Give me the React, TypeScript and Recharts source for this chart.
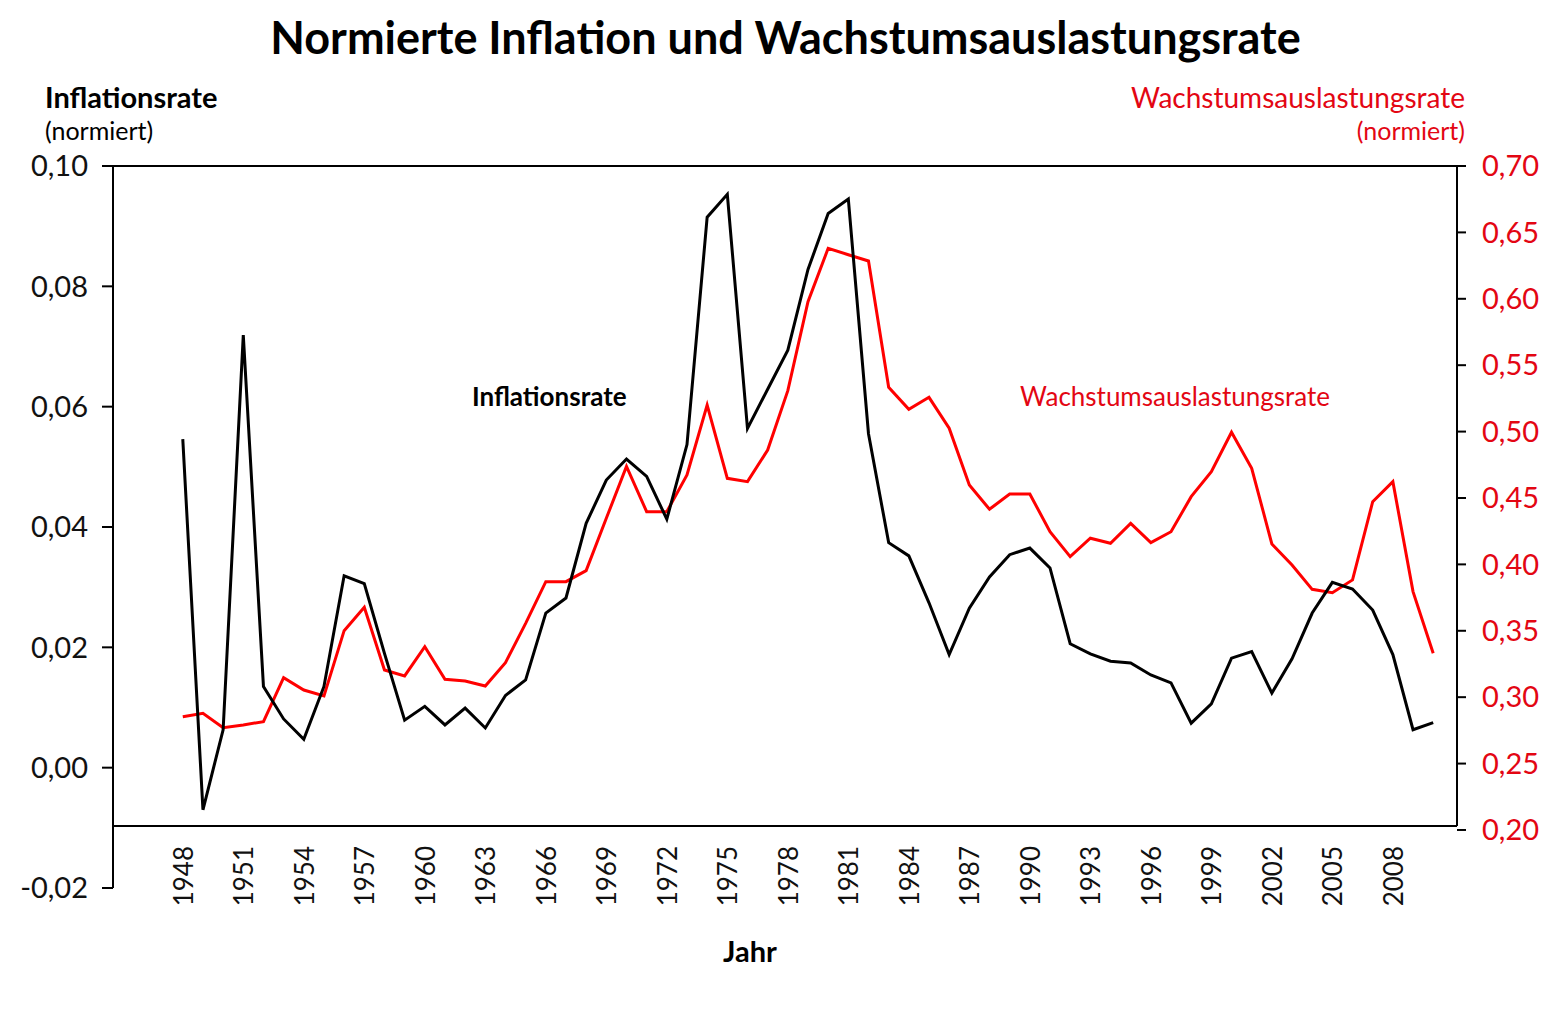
import React from "react";
import { LineChart, Line, XAxis, YAxis, ReferenceLine } from "recharts";

// Jahre 1948–2010
const years = [
  1948, 1949, 1950, 1951, 1952, 1953, 1954, 1955, 1956, 1957, 1958, 1959,
  1960, 1961, 1962, 1963, 1964, 1965, 1966, 1967, 1968, 1969, 1970, 1971,
  1972, 1973, 1974, 1975, 1976, 1977, 1978, 1979, 1980, 1981, 1982, 1983,
  1984, 1985, 1986, 1987, 1988, 1989, 1990, 1991, 1992, 1993, 1994, 1995,
  1996, 1997, 1998, 1999, 2000, 2001, 2002, 2003, 2004, 2005, 2006, 2007,
  2008, 2009, 2010,
];

// Inflationsrate (normiert), linke Achse
const inflation = [
  0.0546, -0.007, 0.0063, 0.0719, 0.0135, 0.0081, 0.0047, 0.0135, 0.0319,
  0.0306, 0.019, 0.0079, 0.0102, 0.0071, 0.0099, 0.0066, 0.012, 0.0146,
  0.0257, 0.0282, 0.0406, 0.0478, 0.0513, 0.0484, 0.0413, 0.0537, 0.0915,
  0.0953, 0.0564, 0.0629, 0.0694, 0.0828, 0.0921, 0.0945, 0.0555, 0.0374,
  0.0352, 0.0274, 0.0188, 0.0265, 0.0317, 0.0354, 0.0365, 0.0332, 0.0206,
  0.0189, 0.0177, 0.0174, 0.0154, 0.0141, 0.0074, 0.0106, 0.0182, 0.0193,
  0.0124, 0.0181, 0.0257, 0.0308, 0.0297, 0.0262, 0.0188, 0.0063, 0.0075,
];

// Wachstumsauslastungsrate (normiert), rechte Achse
const auslastung = [
  0.2853, 0.2879, 0.277, 0.2791, 0.2816, 0.3147, 0.3054, 0.3009, 0.3501,
  0.3677, 0.3205, 0.316, 0.338, 0.3135, 0.3122, 0.3084, 0.326, 0.3556,
  0.387, 0.387, 0.3953, 0.4347, 0.4738, 0.4397, 0.4397, 0.4673, 0.52,
  0.4648, 0.4623, 0.4861, 0.5308, 0.5978, 0.638, 0.6332, 0.6285, 0.5334,
  0.5168, 0.5258, 0.5025, 0.4598, 0.4415, 0.453, 0.453, 0.4246, 0.4058,
  0.4197, 0.4159, 0.4309, 0.4164, 0.4246, 0.451, 0.4698, 0.4995, 0.4724,
  0.4154, 0.3995, 0.3812, 0.3787, 0.3883, 0.4472, 0.4623, 0.3795, 0.3331,
];

const yearTicks = [
  1948, 1951, 1954, 1957, 1960, 1963, 1966, 1969, 1972, 1975, 1978, 1981,
  1984, 1987, 1990, 1993, 1996, 1999, 2002, 2005, 2008,
];
const leftTicks = [-0.02, 0, 0.02, 0.04, 0.06, 0.08, 0.1];
const rightTicks = [0.2, 0.25, 0.3, 0.35, 0.4, 0.45, 0.5, 0.55, 0.6, 0.65, 0.7];

const X_MIN = 1944.54;
const X_MAX = 2011.18;
const RIGHT_MIN = 0.1563;
const BOX_BOTTOM = 0.203;

const FONT = "Lato, 'Open Sans', sans-serif";
const RED = "#e30613";

const fmt = (v: number) => v.toFixed(2).replace(".", ",");

const data = years.map((year, i) => ({
  year,
  inflation: inflation[i],
  auslastung: auslastung[i],
}));

const YearTick = ({ x, payload }: any) => {
  const ty = 846;
  return (
    <text
      x={x}
      y={ty}
      transform={`rotate(-90 ${x} ${ty})`}
      textAnchor="end"
      dominantBaseline="central"
      fontSize={26}
      fontFamily={FONT}
      fill="#111"
    >
      {payload.value}
    </text>
  );
};

const label = (extra: React.CSSProperties): React.CSSProperties => ({
  position: "absolute",
  fontFamily: FONT,
  whiteSpace: "nowrap",
  lineHeight: 1,
  ...extra,
});

export default function App() {
  return (
    <div
      style={{
        position: "absolute",
        left: 0,
        top: 0,
        width: 1557,
        height: 1010,
        background: "#fff",
      }}
    >
      <div
        style={label({
          left: 0,
          width: 1557,
          top: 15,
          textAlign: "center",
          fontSize: 45,
          fontWeight: 700,
          color: "#000",
          paddingLeft: 14,
          boxSizing: "border-box",
        })}
      >
        Normierte Inflation und Wachstumsauslastungsrate
      </div>
      <div style={label({ left: 45, top: 82, fontSize: 29, fontWeight: 700 })}>
        Inflationsrate
      </div>
      <div style={label({ left: 45, top: 118, fontSize: 25 })}>(normiert)</div>
      <div style={label({ right: 92, top: 83, fontSize: 28, color: RED })}>
        Wachstumsauslastungsrate
      </div>
      <div style={label({ right: 92, top: 118, fontSize: 25, color: RED })}>
        (normiert)
      </div>
      <div style={label({ left: 472, top: 383, fontSize: 26, fontWeight: 700 })}>
        Inflationsrate
      </div>
      <div style={label({ left: 1020, top: 383, fontSize: 26, color: RED })}>
        Wachstumsauslastungsrate
      </div>
      <div
        style={label({
          left: 700,
          width: 100,
          textAlign: "center",
          top: 936,
          fontSize: 29,
          fontWeight: 700,
        })}
      >
        Jahr
      </div>

      <LineChart
        width={1557}
        height={1010}
        data={data}
        margin={{ top: 166, right: 0, bottom: 0, left: 0 }}
      >
        <XAxis
          dataKey="year"
          type="number"
          domain={[X_MIN, X_MAX]}
          ticks={yearTicks}
          allowDataOverflow
          axisLine={false}
          tickLine={false}
          height={122}
          tick={<YearTick />}
          interval={0}
        />
        <YAxis
          yAxisId="left"
          orientation="left"
          width={113}
          domain={[-0.02, 0.1]}
          ticks={leftTicks}
          allowDataOverflow
          tickFormatter={fmt}
          axisLine={{ stroke: "#000", strokeWidth: 2 }}
          tickLine={{ stroke: "#000", strokeWidth: 2 }}
          tickSize={11}
          tickMargin={14}
          tick={{ fill: "#111", fontSize: 29, fontFamily: FONT }}
        />
        <YAxis
          yAxisId="right"
          orientation="right"
          width={100}
          domain={[RIGHT_MIN, 0.7]}
          ticks={rightTicks}
          allowDataOverflow
          tickFormatter={fmt}
          axisLine={false}
          tickLine={{ stroke: "#000", strokeWidth: 2 }}
          tickSize={9}
          tickMargin={16}
          tick={{ fill: RED, fontSize: 29, fontFamily: FONT }}
        />
        <ReferenceLine yAxisId="left" y={0.1} stroke="#000" strokeWidth={2} />
        <ReferenceLine
          yAxisId="right"
          y={BOX_BOTTOM}
          stroke="#000"
          strokeWidth={2}
        />
        <ReferenceLine
          yAxisId="right"
          segment={[
            { x: X_MAX, y: 0.7 },
            { x: X_MAX, y: BOX_BOTTOM },
          ]}
          stroke="#000"
          strokeWidth={2}
          ifOverflow="visible"
        />
        <Line
          yAxisId="right"
          dataKey="auslastung"
          type="linear"
          stroke="#ff0000"
          strokeWidth={3}
          dot={false}
          isAnimationActive={false}
        />
        <Line
          yAxisId="left"
          dataKey="inflation"
          type="linear"
          stroke="#000"
          strokeWidth={3}
          dot={false}
          isAnimationActive={false}
        />
      </LineChart>
    </div>
  );
}
